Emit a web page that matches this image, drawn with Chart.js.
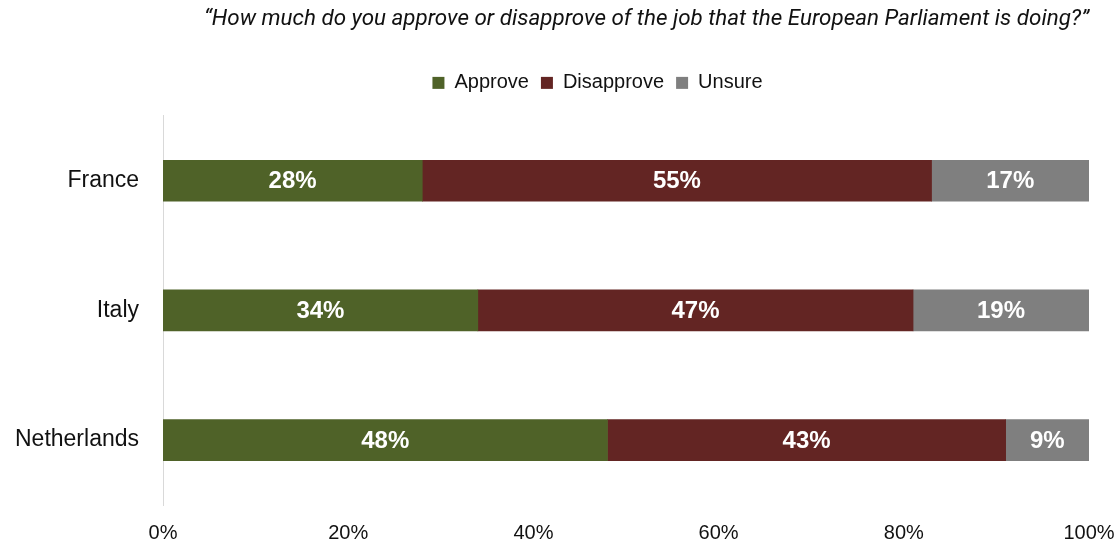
<!DOCTYPE html>
<html>
<head>
<meta charset="utf-8">
<script src="https://cdn.jsdelivr.net/npm/chart.js@4/dist/chart.umd.min.js"></script>
<style>
  html, body { margin: 0; padding: 0; background: #fff; }
  #wrap { width: 1120px; height: 547px; }
</style>
</head>
<body>
<div id="wrap"><canvas id="chart"></canvas></div>
<script>
// data
const countries = ['France', 'Italy', 'Netherlands'];
const approve = [28, 34, 48];
const disapprove = [55, 47, 43];
const unsure = [17, 19, 9];
const seriesNames = ['Approve', 'Disapprove', 'Unsure'];
const xTicks = [0, 20, 40, 60, 80, 100];

const titleText = '\u201CHow much do you approve or disapprove of the job that the European Parliament is doing?\u201D';

// white % labels in the middle of every segment
const barLabels = {
    id: 'barLabels',
    afterDatasetsDraw(chart) {
        const ctx = chart.ctx;
        ctx.save();
        ctx.fillStyle = '#fff';
        ctx.font = 'bold 24px "Liberation Sans", Arial, sans-serif';
        ctx.textAlign = 'center';
        ctx.textBaseline = 'middle';
        chart.data.datasets.forEach((ds, i) => {
            chart.getDatasetMeta(i).data.forEach((bar, j) => {
                const p = bar.getCenterPoint();
                ctx.fillText(ds.data[j] + '%', p.x, p.y + 1);
            });
        });
        ctx.restore();
    }
};

// extra room under the legend, and legend nudged right like the original
const legendTweak = {
    id: 'legendTweak',
    beforeInit(chart) {
        const fit = chart.legend.fit;
        chart.legend.fit = function () {
            fit.bind(chart.legend)();
            this.height += 13;
        };
    },
    afterLayout(chart) {
        chart.legend.left += 98;
    }
};

const ctx = document.getElementById('chart');

new Chart(ctx, {
    type: 'bar',
    data: {
        labels: countries,
        datasets: [
            { label: seriesNames[0], data: approve, backgroundColor: '#4f6228' },
            { label: seriesNames[1], data: disapprove, backgroundColor: '#632523' },
            { label: seriesNames[2], data: unsure, backgroundColor: '#7f7f7f' }
        ]
    },
    options: {
        indexAxis: 'y',
        responsive: true,
        maintainAspectRatio: false,
        animation: false,
        layout: { padding: { left: 8, right: 31, top: 6, bottom: 0 } },
        datasets: {
            bar: {
                barThickness: 41,
                borderWidth: 0
            }
        },
        plugins: {
            title: {
                display: true,
                text: titleText,
                align: 'end',
                color: '#111',
                font: { family: '"Liberation Sans Narrow", Roboto, sans-serif', size: 22.4, style: 'italic', weight: 'normal' },
                padding: { top: 0, bottom: 28 }
            },
            legend: {
                display: true,
                labels: {
                    color: '#111',
                    font: { family: '"Liberation Sans", Arial, sans-serif', size: 20 },
                    boxWidth: 12,
                    boxHeight: 12,
                    padding: 12
                }
            },
            tooltip: { enabled: false }
        },
        scales: {
            x: {
                stacked: true,
                min: 0,
                max: 100,
                afterBuildTicks(axis) {
                    axis.ticks = xTicks.map(v => ({ value: v }));
                },
                ticks: {
                    color: '#111',
                    font: { family: '"Liberation Sans", Arial, sans-serif', size: 20 },
                    padding: 16,
                    callback: v => v + '%'
                },
                grid: { display: false, drawTicks: false },
                border: { display: false },
                afterFit(axis) {
                    axis.height = 42;
                    axis.paddingLeft = 0;
                    axis.paddingRight = 0;
                }
            },
            y: {
                stacked: true,
                ticks: {
                    color: '#111',
                    font: { family: '"Liberation Sans", Arial, sans-serif', size: 23 },
                    padding: 24
                },
                grid: { display: false, drawTicks: false },
                border: { display: true, color: '#d9d9d9', width: 1 },
                afterFit(axis) { axis.width = 155; }
            }
        }
    },
    plugins: [barLabels, legendTweak]
});
</script>
</body>
</html>
